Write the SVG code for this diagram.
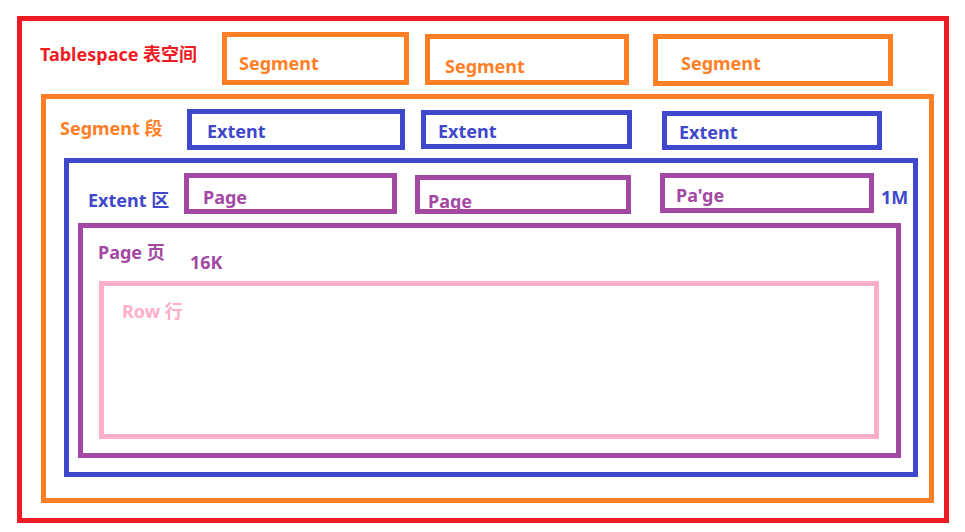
<svg xmlns="http://www.w3.org/2000/svg" width="965" height="532" viewBox="0 0 965 532">
<style>
rect{fill:none;stroke-width:5}
text{font-family:"Noto Sans","Noto Sans CJK SC",sans-serif;font-weight:bold;font-size:18px}
.r{stroke:#ED1C24}.o{stroke:#FF7F27}.b{stroke:#3F48CC}.p{stroke:#A349A4}.k{stroke:#FFAEC9}
.tr{fill:#ED1C24}.to{fill:#FF7F27}.tb{fill:#3F48CC}.tp{fill:#A349A4}.tk{fill:#FFAEC9}
</style>
<rect width="965" height="532" fill="#fff" style="stroke:none"/>
<g id="tablespace"><rect class="r" x="19.5" y="18.5" width="927" height="502"/><text class="tr" x="40" y="61">Tablespace 表空间</text></g>
<g id="segment1"><rect class="o" x="224.5" y="34.5" width="182" height="48"/><text class="to" x="239" y="70">Segment</text></g>
<g id="segment2"><rect class="o" x="427.5" y="36.5" width="199" height="46"/><text class="to" x="445" y="73">Segment</text></g>
<g id="segment3"><rect class="o" x="655.5" y="36.5" width="235" height="47"/><text class="to" x="681" y="70">Segment</text></g>
<g id="segment"><rect class="o" x="43.5" y="96.5" width="888" height="404"/><text class="to" x="60" y="135">Segment 段</text></g>
<g id="extent1"><rect class="b" x="189.5" y="111.5" width="213" height="36"/><text class="tb" x="207" y="138">Extent</text></g>
<g id="extent2"><rect class="b" x="423.5" y="112.5" width="206" height="34"/><text class="tb" x="438" y="138">Extent</text></g>
<g id="extent3"><rect class="b" x="664.5" y="113.5" width="215" height="34"/><text class="tb" x="679" y="139">Extent</text></g>
<g id="extent"><rect class="b" x="66.5" y="160.5" width="849" height="314"/><text class="tb" x="88" y="207">Extent 区</text><text class="tb" x="881" y="204">1M</text></g>
<g id="page1"><rect class="p" x="186.5" y="175.5" width="208" height="36"/><text class="tp" x="203" y="204">Page</text></g>
<g id="page2"><rect class="p" x="417.5" y="177.5" width="211" height="34"/><text class="tp" x="428" y="208">Page</text></g>
<g id="page3"><rect class="p" x="662.5" y="175.5" width="209" height="35"/><text class="tp" x="676" y="202">Pa'ge</text></g>
<g id="page"><rect class="p" x="80.5" y="225.5" width="818" height="230"/><text class="tp" x="98" y="259">Page 页</text><text class="tp" x="190" y="269">16K</text></g>
<g id="row"><rect class="k" x="101.5" y="283.5" width="775" height="153"/><text class="tk" x="122" y="318">Row 行</text></g>
<g id="connectors"/>
</svg>
